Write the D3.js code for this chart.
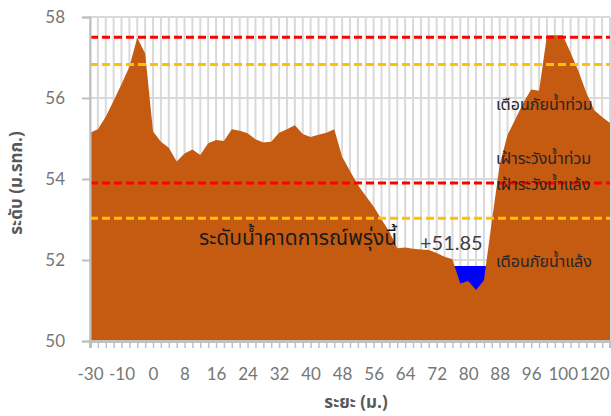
<!DOCTYPE html>
<html>
<head>
<meta charset="utf-8">
<script src="https://cdn.jsdelivr.net/npm/d3@7"></script>
<style>
  body { margin: 0; background: #fff; }
  svg { display: block; }
  .tick-label { font-family: Lato, "Noto Sans", sans-serif; font-size: 17px; fill: #767676; }
  .thai { font-family: "Noto Sans Thai", Tahoma, "Leelawadee UI", sans-serif; }
</style>
</head>
<body>
<svg width="611" height="416"></svg>
<script>
// distance along the section (m.)
const distances = [
  '-30', '-25', '-20', '-15', '-10', '-8', '-5', '-2',
  '0', '2', '4', '6', '8', '10', '12', '14', '16', '18', '20', '22', '24',
  '26', '28', '30', '32', '34', '36', '38', '40', '42', '44', '46', '48',
  '50', '52', '54', '56', '58', '60', '62', '64', '66', '68', '70', '72',
  '74', '76', '78', '80', '82', '84', '86', '88', '90', '92', '94', '96',
  '97', '98', '99', '100', '105', '110', '115', '120', '125', '130'
];

// ground elevation (m. MSL)
const ground = [
  55.14, 55.23, 55.54, 55.93, 56.34, 56.77, 57.49, 57.10,
  55.17, 54.92, 54.77, 54.43, 54.63, 54.73, 54.59, 54.88, 54.96, 54.94, 55.23, 55.19, 55.13,
  54.98, 54.90, 54.92, 55.14, 55.23, 55.33, 55.11, 55.04, 55.09, 55.14, 55.23, 54.55,
  54.20, 53.85, 53.58, 53.32, 53.00, 52.70, 52.29, 52.31, 52.28, 52.26, 52.25, 52.17,
  52.08, 52.02, 51.42, 51.48, 51.26, 51.50, 52.95, 54.35, 55.09, 55.48, 55.88, 56.21,
  56.18, 57.55, 57.55, 57.55, 57.12, 56.66, 56.13, 55.70, 55.53, 55.38
];

// forecast water level for tomorrow and the stretch it fills
const forecastLevel = 51.85;
const forecastSpan = ['76', '86'];

const redLevels = [57.5, 53.9];      // เตือนภัย / เฝ้าระวัง
const orangeLevels = [56.83, 53.03];

const yTicks = [50, 52, 54, 56, 58];
const labelEvery = 4;

const svg = d3.select('svg');
const margin = { top: 17, right: 1, bottom: 75, left: 90 };
const width = +svg.attr('width');
const height = +svg.attr('height');
const innerW = width - margin.left - margin.right;
const innerH = height - margin.top - margin.bottom;

const x = d3.scalePoint().domain(distances).range([0, innerW]);
const y = d3.scaleLinear().domain([50, 58]).range([innerH, 0]);

const g = svg.append('g').attr('transform', `translate(${margin.left},${margin.top})`);

// grid
g.append('g').selectAll('line').data(distances).join('line')
  .attr('x1', d => x(d)).attr('x2', d => x(d))
  .attr('y1', 0).attr('y2', innerH)
  .attr('stroke', '#d9d9d9').attr('stroke-width', 2);
g.append('g').selectAll('line').data(yTicks).join('line')
  .attr('x1', 0).attr('x2', innerW)
  .attr('y1', d => y(d)).attr('y2', d => y(d))
  .attr('stroke', '#d9d9d9').attr('stroke-width', 2);

const rows = distances.map((d, i) => ({ d, v: ground[i] }));

// water (drawn under the ground so the bank hides it)
const i0 = distances.indexOf(forecastSpan[0]);
const i1 = distances.indexOf(forecastSpan[1]);
const waterRows = rows.slice(i0, i1 + 1);
g.append('path')
  .datum(waterRows)
  .attr('fill', '#0000ff')
  .attr('d', d3.area().x(r => x(r.d)).y0(y(50)).y1(y(forecastLevel)));

g.append('path')
  .datum(rows)
  .attr('fill', '#c55a11')
  .attr('d', d3.area().x(r => x(r.d)).y0(y(50)).y1(r => y(r.v)));

// threshold lines
const dashLine = (levels, colour) => g.append('g').selectAll('line').data(levels).join('line')
  .attr('x1', 0).attr('x2', innerW)
  .attr('y1', d => y(d)).attr('y2', d => y(d))
  .attr('stroke', colour).attr('stroke-width', 3)
  .attr('stroke-dasharray', '8,4');
dashLine(redLevels, '#ff0000');
dashLine(orangeLevels, '#ffc000');

// axes
const yAxis = g.append('g').call(d3.axisLeft(y).tickValues(yTicks).tickSize(8).tickFormat(d3.format('d')));
yAxis.select('.domain').attr('stroke', '#bfbfbf').attr('stroke-width', 2);
yAxis.selectAll('.tick line').attr('stroke', '#bfbfbf').attr('stroke-width', 2);
yAxis.selectAll('.tick text').attr('class', 'tick-label').attr('x', -25).attr('dy', '0.35em');

const xAxis = g.append('g').attr('transform', `translate(0,${innerH})`)
  .call(d3.axisBottom(x).tickSize(7).tickFormat((d, i) => i % labelEvery === 0 ? d : ''));
xAxis.select('.domain').attr('stroke', '#bfbfbf').attr('stroke-width', 3);
xAxis.selectAll('.tick line').attr('stroke', '#bfbfbf').attr('stroke-width', 1.5);
xAxis.selectAll('.tick text').attr('class', 'tick-label').attr('y', 33).attr('dy', '0.35em');

// level annotations
const notes = [
  { t: 'เตือนภัยน้ำท่วม', v: 55.85 },
  { t: 'เฝ้าระวังน้ำท่วม', v: 54.52 },
  { t: 'เฝ้าระวังน้ำแล้ง', v: 53.86 },
  { t: 'เตือนภัยน้ำแล้ง', v: 51.97 }
];
g.append('g').selectAll('text').data(notes).join('text')
  .attr('class', 'thai')
  .attr('x', 406).attr('y', d => y(d.v)).attr('dy', '0.35em')
  .attr('font-size', 16).attr('fill', '#262626')
  .text(d => d.t);

g.append('text').attr('class', 'thai')
  .attr('x', 109).attr('y', y(52.55)).attr('dy', '0.35em')
  .attr('font-size', 21).attr('fill', '#1a1a1a')
  .text('ระดับน้ำคาดการณ์พรุ่งนี้');
g.append('text')
  .attr('x', 330).attr('y', y(52.42)).attr('dy', '0.35em')
  .attr('font-family', 'Lato, "Noto Sans", sans-serif')
  .attr('font-size', 20).attr('fill', '#404040')
  .text('+' + forecastLevel);

// axis titles
svg.append('text').attr('class', 'thai')
  .attr('transform', `translate(16,183) rotate(-90)`)
  .attr('text-anchor', 'middle').attr('dy', '0.35em')
  .attr('font-size', 17).attr('font-weight', 'bold').attr('fill', '#595959')
  .text('ระดับ (ม.รทก.)');
svg.append('text').attr('class', 'thai')
  .attr('x', margin.left + innerW / 2 + 6).attr('y', 402).attr('dy', '0.35em')
  .attr('text-anchor', 'middle')
  .attr('font-size', 17).attr('font-weight', 'bold').attr('fill', '#595959')
  .text('ระยะ (ม.)');
</script>
</body>
</html>
